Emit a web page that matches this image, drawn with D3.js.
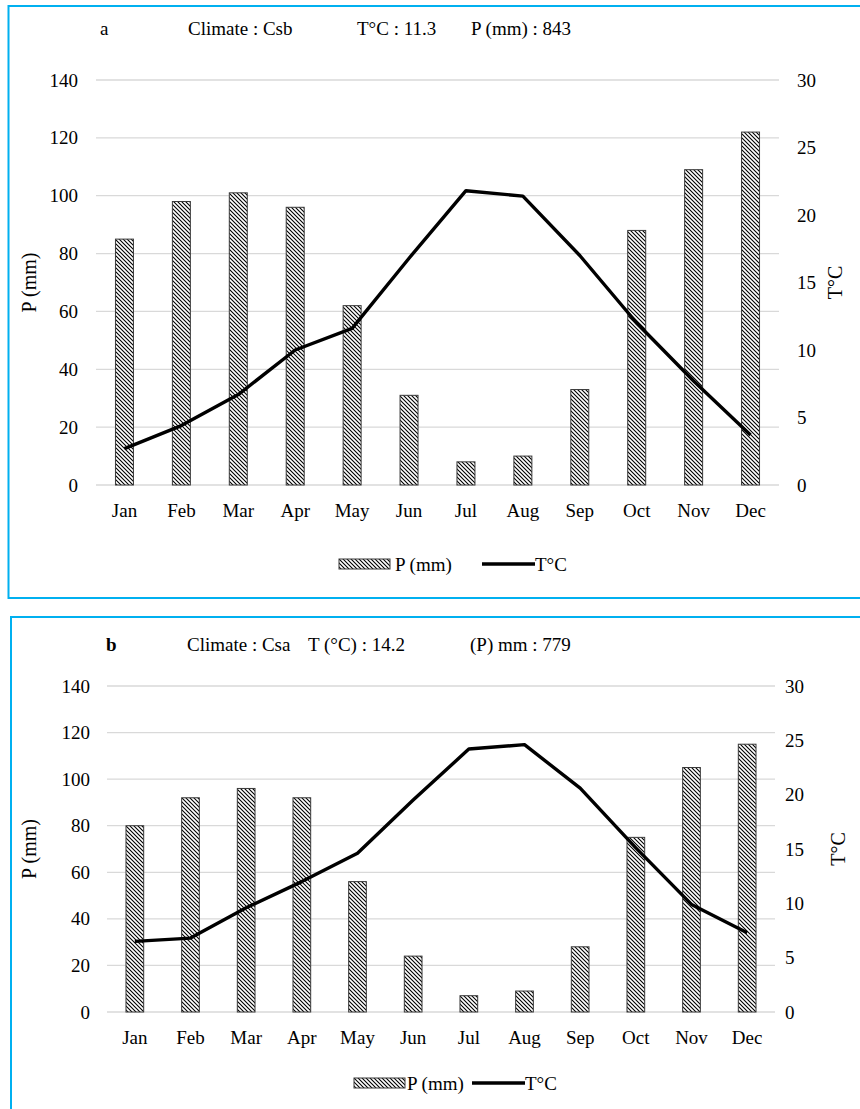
<!DOCTYPE html>
<html><head><meta charset="utf-8">
<script src="https://cdn.jsdelivr.net/npm/d3@7"></script>
<style>
html,body{margin:0;padding:0;background:#fff;}
svg{display:block;}
text{font-family:"Liberation Serif","Times New Roman",serif;fill:#000;}
</style></head>
<body>
<svg id="chart" width="860" height="1109"></svg>
<script>
const months = ["Jan","Feb","Mar","Apr","May","Jun","Jul","Aug","Sep","Oct","Nov","Dec"];
const precipA = [85,98,101,96,62,31,8,10,33,88,109,122];
const tempA = [2.7,4.4,6.7,10.0,11.6,16.8,21.8,21.4,17.0,12.0,7.7,3.7];
const precipB = [80,92,96,92,56,24,7,9,28,75,105,115];
const tempB = [6.5,6.8,9.6,12.0,14.6,19.5,24.2,24.6,20.6,15.1,9.9,7.3];
const pTicks = [0,20,40,60,80,100,120,140];
const tTicks = [0,5,10,15,20,25,30];
const legendP = "P (mm)";
const legendT = "T°C";

const svg = d3.select("#chart");
const defs = svg.append("defs");
const pat = defs.append("pattern").attr("id","hatch").attr("patternUnits","userSpaceOnUse")
  .attr("width",4).attr("height",4);
pat.append("rect").attr("width",4).attr("height",4).attr("fill","#fff");
pat.append("path").attr("d","M-1,-1L5,5M-1,3L1,5M3,-1L5,1").attr("stroke","#000").attr("stroke-width",1.1);

function panel(cfg){
  const g = svg.append("g");
  g.append("rect").attr("x",cfg.frame[0]).attr("y",cfg.frame[1]).attr("width",cfg.frame[2]).attr("height",cfg.frame[3])
    .attr("fill","none").attr("stroke","#00b0f0").attr("stroke-width",2);
  const x = d3.scaleBand().domain(months).range([cfg.x0,cfg.x1]).paddingInner(cfg.pad).paddingOuter(cfg.pad/2);
  const yP = d3.scaleLinear().domain([0,140]).range([cfg.y0,cfg.y1]);
  const yT = d3.scaleLinear().domain([0,30]).range([cfg.y0,cfg.y1]);
  g.selectAll(".grid").data(pTicks).join("line")
    .attr("x1",cfg.x0).attr("x2",cfg.x1).attr("y1",d=>yP(d)).attr("y2",d=>yP(d))
    .attr("stroke","#d9d9d9").attr("stroke-width",1.3);
  const la = g.append("g").attr("transform",`translate(${cfg.lx},0)`)
    .call(d3.axisLeft(yP).tickValues(pTicks).tickSize(0).tickPadding(0));
  la.select(".domain").remove();
  la.selectAll("text").attr("font-size",19).attr("font-family","Liberation Serif");
  const ra = g.append("g").attr("transform",`translate(${cfg.rx},0)`)
    .call(d3.axisRight(yT).tickValues(tTicks).tickSize(0).tickPadding(0));
  ra.select(".domain").remove();
  ra.selectAll("text").attr("font-size",19).attr("font-family","Liberation Serif");
  g.selectAll(".bar").data(cfg.p).join("rect")
    .attr("x",(d,i)=>x(months[i])).attr("width",x.bandwidth())
    .attr("y",d=>yP(d)).attr("height",d=>yP(0)-yP(d))
    .attr("fill","url(#hatch)").attr("stroke","#3a3a3a").attr("stroke-width",1);
  const line = d3.line().x((d,i)=>x(months[i])+x.bandwidth()/2).y(d=>yT(d));
  g.append("path").datum(cfg.t).attr("d",line).attr("fill","none")
    .attr("stroke","#000").attr("stroke-width",3.4).attr("stroke-linejoin","round");
  const xa = g.append("g").attr("transform",`translate(0,${cfg.y0})`)
    .call(d3.axisBottom(x).tickSize(0).tickPadding(0));
  xa.select(".domain").remove();
  xa.selectAll("text").attr("font-size",19).attr("font-family","Liberation Serif").attr("dy",null).attr("y",32);
  g.append("text").attr("transform",`translate(${cfg.ltx},${(cfg.y0+cfg.y1)/2}) rotate(-90)`)
    .attr("text-anchor","middle").attr("font-size",20).text(legendP);
  g.append("text").attr("transform",`translate(${cfg.rtx},${(cfg.y0+cfg.y1)/2}) rotate(-90)`)
    .attr("text-anchor","middle").attr("font-size",20).text(legendT);
  cfg.title.forEach(tt=>{
    g.append("text").attr("x",tt[0]).attr("y",cfg.ty).attr("font-size",19)
      .attr("font-weight",tt[2]||"normal").text(tt[1]);
  });
  const L = cfg.leg;
  g.append("rect").attr("x",L.sx).attr("y",L.y-5).attr("width",51).attr("height",10)
    .attr("fill","url(#hatch)").attr("stroke","#3a3a3a").attr("stroke-width",1);
  g.append("text").attr("x",L.px).attr("y",L.y).attr("dy","0.35em").attr("font-size",19).text(legendP);
  g.append("line").attr("x1",L.lx).attr("x2",L.lx+53).attr("y1",L.y).attr("y2",L.y)
    .attr("stroke","#000").attr("stroke-width",3.4);
  g.append("text").attr("x",L.lx+53).attr("y",L.y).attr("dy","0.35em").attr("font-size",19).text(legendT);
}

panel({frame:[8.5,6,900,592], x0:96, x1:779, pad:0.684, y0:485, y1:80, lx:78, rx:797, ltx:36, rtx:842,
  p:precipA, t:tempA, ty:35,
  title:[[100,"a"],[188,"Climate : Csb"],[357,"T°C : 11.3"],[471,"P (mm) : 843"]],
  leg:{sx:339, px:395, lx:482, y:564}});
panel({frame:[11,617,900,600], x0:107, x1:775, pad:0.682, y0:1012, y1:686, lx:90, rx:785, ltx:36, rtx:845,
  p:precipB, t:tempB, ty:651,
  title:[[106,"b","bold"],[187,"Climate : Csa"],[308,"T (°C) : 14.2"],[470,"(P) mm : 779"]],
  leg:{sx:354, px:407, lx:472, y:1083}});
</script>
</body></html>
